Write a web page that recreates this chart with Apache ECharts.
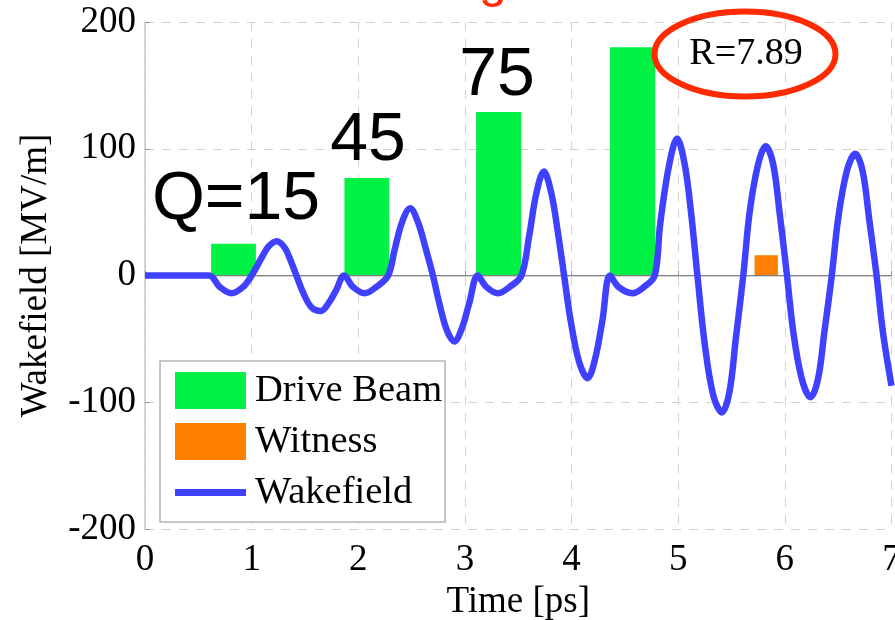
<!DOCTYPE html>
<html><head><meta charset="utf-8">
<script src="https://cdn.jsdelivr.net/npm/echarts@6/dist/echarts.min.js"></script>
<style>html,body{margin:0;padding:0;background:#fff}#c{width:895px;height:620px}</style>
</head><body><div id="c"></div>
<script>
// Wakefield curve (time in ps, field in MV/m)
const waveT = [0, 0.60, 0.70, 0.81, 0.92, 1.00, 1.10, 1.16, 1.235, 1.31, 1.36, 1.42, 1.48, 1.56, 1.65, 1.72, 1.79, 1.867,
  1.95, 2.06, 2.17, 2.28, 2.34, 2.41, 2.486, 2.56, 2.63, 2.70, 2.76, 2.83, 2.90, 2.97, 3.04, 3.12,
  3.20, 3.31, 3.42, 3.53, 3.60, 3.67, 3.74, 3.81, 3.87, 3.93, 3.99, 4.07, 4.15, 4.22, 4.29, 4.36,
  4.44, 4.57, 4.68, 4.78, 4.83, 4.91, 4.99, 5.06, 5.12, 5.18, 5.25, 5.33, 5.41, 5.48, 5.54, 5.61,
  5.67, 5.75, 5.82, 5.89, 5.95, 6.02, 6.08, 6.16, 6.24, 6.31, 6.37, 6.44, 6.50, 6.58, 6.66, 6.73, 6.79, 6.86, 6.92, 7.00];
const waveV = [0, 0, -9, -14, -9, 0, 15, 23, 27, 22, 13, 0, -13, -25, -28, -22, -12, 0,
  -9, -14, -9, 0, 20, 42, 53, 42, 22, 0, -22, -43, -52, -42, -22, 0,
  -9, -14, -9, 0, 30, 65, 82, 65, 35, 0, -35, -68, -81, -66, -35, 0,
  -9, -14, -9, 0, 40, 85, 108, 88, 50, 0, -55, -95, -108, -92, -50, 0,
  50, 88, 102, 88, 50, 0, -45, -82, -96, -82, -45, 0, 45, 82, 96, 82, 45, 0, -45, -87];

// Drive bunches and witness bunch
const driveStart = [0.62, 1.87, 3.105, 4.36];
const driveEnd = [1.04, 2.29, 3.527, 4.784];
const driveHeight = [25, 77, 129, 180];
const witnessStart = [5.716];
const witnessEnd = [5.935];
const witnessHeight = [16];

const chargeLabels = ['Q=15', '45', '75'];
const ratioLabel = 'R=7.89';
const seriesNames = ['Drive Beam', 'Witness', 'Wakefield'];

const waveData = waveT.map((t, i) => [t, waveV[i]]);
const driveData = driveStart.map((s, i) => [s, driveEnd[i], driveHeight[i]]);
const witnessData = witnessStart.map((s, i) => [s, witnessEnd[i], witnessHeight[i]]);

function renderBar(params, api) {
  const p0 = api.coord([api.value(0), api.value(2)]);
  const p1 = api.coord([api.value(1), 0]);
  return { type: 'rect', shape: { x: p0[0], y: p0[1], width: p1[0] - p0[0], height: p1[1] - p0[1] }, style: api.style() };
}

const serif = 'Liberation Serif';
const sans = 'Liberation Sans';
const GREEN = '#00F244', ORANGE = '#FF7F00', BLUE = '#4040FF';
const splitStyle = { show: true, lineStyle: { color: '#d2d2d2', width: 1, type: [9, 8] } };
// thick line legend icon (invisible corner points keep the 71x37 box)
const lineIcon = 'path://M0,0L0.01,0L0.01,0.01Z M0,15H71V22H0Z M70.99,37L71,37L71,36.99Z';

const chart = echarts.init(document.getElementById('c'), null, { renderer: 'canvas' });
chart.setOption({
  animation: false,
  backgroundColor: '#fff',
  grid: { left: 145, right: 3.5, top: 22, bottom: 91, containLabel: false, outerBoundsMode: 'none' },
  xAxis: {
    type: 'value', min: 0, max: 7, interval: 1,
    name: 'Time [ps]', nameLocation: 'middle', nameGap: 53,
    nameTextStyle: { fontFamily: serif, fontSize: 37, color: '#000' },
    axisLine: { show: true, lineStyle: { color: '#c8c8c8', width: 1.5 } },
    axisTick: { show: true, inside: true, length: 5, lineStyle: { color: '#999' } },
    axisLabel: { fontFamily: serif, fontSize: 37, color: '#000', margin: 13 },
    splitLine: splitStyle
  },
  yAxis: {
    type: 'value', min: -200, max: 200, interval: 100,
    name: 'Wakefield [MV/m]', nameLocation: 'middle', nameGap: 90,
    nameTextStyle: { fontFamily: serif, fontSize: 37, color: '#000' },
    axisLine: { show: true, lineStyle: { color: '#c8c8c8', width: 1.5 } },
    axisTick: { show: true, inside: true, length: 5, lineStyle: { color: '#999' } },
    axisLabel: { fontFamily: serif, fontSize: 37, color: '#000', margin: 9 },
    splitLine: splitStyle
  },
  legend: {
    orient: 'vertical', left: 160, top: 361,
    padding: [10, 3, 10, 15], itemGap: 12,
    itemWidth: 71, itemHeight: 37,
    borderColor: '#b4b4b4', borderWidth: 1.5, backgroundColor: '#fff',
    textStyle: { fontFamily: serif, fontSize: 38.5, color: '#000', padding: [0, 0, 0, 4] },
    data: [{ name: seriesNames[0], icon: 'rect' }, { name: seriesNames[1], icon: 'rect' }, { name: seriesNames[2], icon: lineIcon }]
  },
  series: [
    {
      name: seriesNames[0], type: 'custom', renderItem: renderBar, data: driveData,
      encode: { x: [0, 1], y: 2 }, itemStyle: { color: GREEN }, z: 2,
      markLine: { silent: true, symbol: ['none', 'none'], label: { show: false },
        lineStyle: { color: '#808080', width: 1, type: 'solid' }, data: [{ yAxis: 0 }] }
    },
    {
      name: seriesNames[1], type: 'custom', renderItem: renderBar, data: witnessData,
      encode: { x: [0, 1], y: 2 }, itemStyle: { color: ORANGE }, z: 2
    },
    {
      name: seriesNames[2], type: 'line', data: waveData, symbol: 'none', smooth: 0.35,
      lineStyle: { color: BLUE, width: 6.5 }, itemStyle: { color: BLUE }, z: 5
    }
  ],
  graphic: [
    { type: 'text', x: 493, y: -17, style: { text: 'g', fontFamily: sans, fontSize: 50, fill: '#FF2A00', textAlign: 'center', textVerticalAlign: 'middle' } },
    { type: 'text', x: 236, y: 200, z: 10, style: { text: chargeLabels[0], fontFamily: sans, fontSize: 68, fill: '#000', textAlign: 'center', textVerticalAlign: 'middle' } },
    { type: 'text', x: 368, y: 141, z: 10, style: { text: chargeLabels[1], fontFamily: sans, fontSize: 68, fill: '#000', textAlign: 'center', textVerticalAlign: 'middle' } },
    { type: 'text', x: 497, y: 76, z: 10, style: { text: chargeLabels[2], fontFamily: sans, fontSize: 68, fill: '#000', textAlign: 'center', textVerticalAlign: 'middle' } },
    { type: 'ellipse', z: 10, shape: { cx: 745, cy: 54, rx: 90.5, ry: 42.5 }, style: { fill: 'none', stroke: '#FF2A00', lineWidth: 6 } },
    { type: 'text', x: 746, y: 54, z: 10, style: { text: ratioLabel, fontFamily: serif, fontSize: 38, fill: '#000', textAlign: 'center', textVerticalAlign: 'middle' } }
  ]
});
</script></body></html>
